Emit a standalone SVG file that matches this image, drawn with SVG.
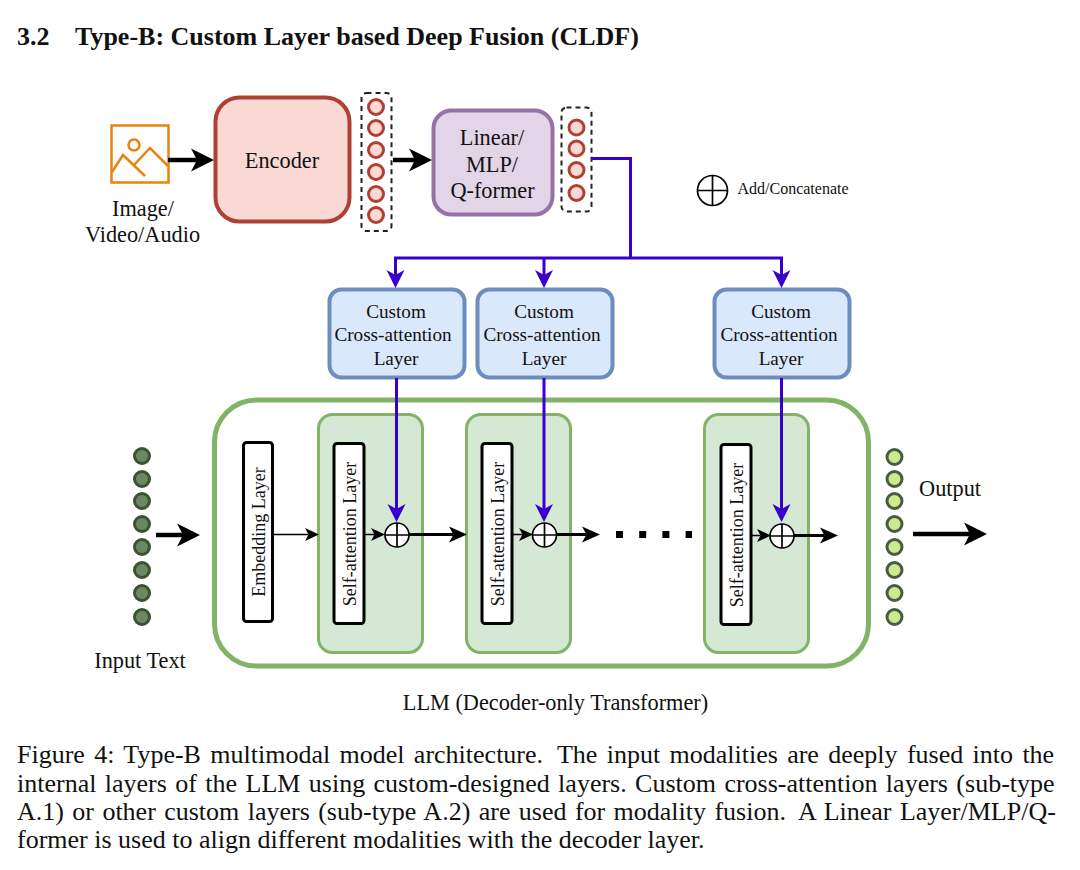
<svg xmlns="http://www.w3.org/2000/svg" width="1080" height="870" viewBox="0 0 1080 870">
<style>
text{font-family:"Liberation Serif","Times New Roman",serif;fill:#111;text-anchor:middle}
.t22{font-size:22.300px}
.t19{font-size:19.200px}
.tv{font-size:18px}
.cap{font-size:26px;text-anchor:start}
.title{font-size:26px;font-weight:bold;text-anchor:start}
.dash{fill:#fff;stroke:#222;stroke-width:2;stroke-dasharray:5 4}
.red{fill:#fad9d5;stroke:#ae4132;stroke-width:3}
.dg{fill:#6d8764;stroke:#3a5431;stroke-width:3}
.lg{fill:#cdeb8b;stroke:#4a5a45;stroke-width:3}
.cust{fill:#dae8fc;stroke:#6c8ebf;stroke-width:4}
.green{fill:#d5e8d4;stroke:#82b366;stroke-width:3}
.layer{fill:#fff;stroke:#000;stroke-width:3}
.plus{fill:#fff;stroke:#000;stroke-width:1.7}
.blk{fill:none;stroke:#000;stroke-width:3}
.blk2{fill:none;stroke:#000;stroke-width:4.500}
.thin{fill:none;stroke:#000;stroke-width:1.500}
.pur{fill:none;stroke:#3700cc;stroke-width:3}
</style>
<defs>
<marker id="ab" markerUnits="userSpaceOnUse" markerWidth="26" markerHeight="26" refX="6" refY="13" orient="auto"><path d="M0 1.500L23 13L0 24.500L6 13Z" fill="#000"/></marker>
<marker id="am" markerUnits="userSpaceOnUse" markerWidth="20" markerHeight="20" refX="4.500" refY="10" orient="auto"><path d="M0 2L18 10L0 18L4.500 10Z" fill="#000"/></marker>
<marker id="as" markerUnits="userSpaceOnUse" markerWidth="16" markerHeight="16" refX="3.500" refY="8" orient="auto"><path d="M0 1.500L14 8L0 14.500L3.500 8Z" fill="#000"/></marker>
<marker id="ap" markerUnits="userSpaceOnUse" markerWidth="20" markerHeight="20" refX="5" refY="10" orient="auto"><path d="M0 1L18 10L0 19L5 10Z" fill="#3700cc"/></marker>
</defs>
<rect width="1080" height="870" fill="#fff"/>
<text class="title" x="17" y="45">3.2</text>
<text class="title" x="75" y="45">Type-B: Custom Layer based Deep Fusion (CLDF)</text>

<g id="llm"><rect x="214.500" y="400" width="654" height="266" rx="42" fill="#fff" stroke="#82b366" stroke-width="5"/></g>
<g id="block1"><rect class="green" x="318.500" y="414.500" width="104" height="238" rx="14"/></g>
<g id="block2"><rect class="green" x="466.500" y="414.500" width="104" height="238" rx="14"/></g>
<g id="block3"><rect class="green" x="704.500" y="414.500" width="104" height="238" rx="14"/></g>

<g id="image-icon" fill="none" stroke="#e7830f" stroke-width="2.500">
<rect x="111.500" y="125.500" width="57" height="57"/>
<circle cx="134" cy="145" r="5.500"/>
<path d="M112 172L123 155L145 176M134 165L150 148L168 166"/>
</g>
<g id="image-label"><text class="t22" x="143" y="216">Image/</text><text class="t22" x="142.500" y="242">Video/Audio</text></g>
<g id="encoder"><rect x="215.500" y="97.500" width="134" height="124" rx="24" fill="#fad9d5" stroke="#ae4132" stroke-width="4"/><text class="t22" x="282" y="168">Encoder</text></g>
<g id="tokens-a"><rect class="dash" x="361.500" y="93" width="30" height="138" rx="5"/>
<circle class="red" cx="376" cy="107" r="7.500"/><circle class="red" cx="376" cy="128" r="7.500"/><circle class="red" cx="376" cy="150" r="7.500"/><circle class="red" cx="376" cy="172" r="7.500"/><circle class="red" cx="376" cy="194" r="7.500"/><circle class="red" cx="376" cy="215" r="7.500"/></g>
<g id="projector"><rect x="433.500" y="110.500" width="119" height="104" rx="18" fill="#e1d5e7" stroke="#9673a6" stroke-width="4"/><text class="t22" x="492" y="145">Linear/</text><text class="t22" x="492" y="172">MLP/</text><text class="t22" x="492.500" y="198">Q-former</text></g>
<g id="tokens-b"><rect class="dash" x="561.500" y="107.500" width="30" height="104" rx="5"/>
<circle class="red" cx="576.500" cy="127.500" r="7.500"/><circle class="red" cx="576.500" cy="148.500" r="7.500"/><circle class="red" cx="576.500" cy="170" r="7.500"/><circle class="red" cx="576.500" cy="193" r="7.500"/></g>
<g id="legend"><circle class="plus" cx="712.500" cy="190.500" r="15"/><path class="plus" d="M697.500 190.500H727.500M712.500 175.500V205.500"/><text x="793" y="194" style="font-size:16px">Add/Concatenate</text></g>

<g id="custom1"><rect class="cust" x="329.500" y="289.500" width="135" height="88" rx="12"/><text class="t19" x="396" y="318">Custom</text><text class="t19" x="393" y="341">Cross-attention</text><text class="t19" x="396" y="365">Layer</text></g>
<g id="custom2"><rect class="cust" x="477.500" y="289.500" width="135" height="88" rx="12"/><text class="t19" x="544" y="318">Custom</text><text class="t19" x="542" y="341">Cross-attention</text><text class="t19" x="544" y="365">Layer</text></g>
<g id="custom3"><rect class="cust" x="714.500" y="289.500" width="135" height="88" rx="12"/><text class="t19" x="781" y="318">Custom</text><text class="t19" x="779" y="341">Cross-attention</text><text class="t19" x="781" y="365">Layer</text></g>

<g id="embedding"><rect class="layer" x="243.500" y="442.500" width="29" height="179" rx="3"/><text class="tv" transform="translate(265,532) rotate(-90)">Embedding Layer</text></g>
<g id="sa1"><rect class="layer" x="334" y="443.500" width="30" height="180" rx="3"/><text class="tv" transform="translate(356,534) rotate(-90)">Self-attention Layer</text></g>
<g id="sa2"><rect class="layer" x="482" y="443.500" width="30" height="180" rx="3"/><text class="tv" transform="translate(504,534) rotate(-90)">Self-attention Layer</text></g>
<g id="sa3"><rect class="layer" x="721" y="444.500" width="30" height="180" rx="3"/><text class="tv" transform="translate(743,535) rotate(-90)">Self-attention Layer</text></g>

<g id="input-dots"><circle class="dg" cx="142" cy="456" r="7.500"/><circle class="dg" cx="142" cy="479" r="7.500"/><circle class="dg" cx="142" cy="501" r="7.500"/><circle class="dg" cx="142" cy="524" r="7.500"/><circle class="dg" cx="142" cy="547" r="7.500"/><circle class="dg" cx="142" cy="570" r="7.500"/><circle class="dg" cx="142" cy="593" r="7.500"/><circle class="dg" cx="142" cy="617" r="7.500"/></g>
<g id="output-dots"><circle class="lg" cx="894.500" cy="457" r="7.500"/><circle class="lg" cx="894.500" cy="479" r="7.500"/><circle class="lg" cx="894.500" cy="501" r="7.500"/><circle class="lg" cx="894.500" cy="524" r="7.500"/><circle class="lg" cx="894.500" cy="547" r="7.500"/><circle class="lg" cx="894.500" cy="570" r="7.500"/><circle class="lg" cx="894.500" cy="593" r="7.500"/><circle class="lg" cx="894.500" cy="617" r="7.500"/></g>

<g id="connectors">
<path class="blk2" d="M168 160H197" marker-end="url(#ab)"/>
<path class="blk2" d="M393 160H415" marker-end="url(#ab)"/>
<path class="pur" d="M591 158.500H630.500V258"/>
<path class="pur" d="M394 258H783"/>
<path class="pur" d="M395.500 258V275" marker-end="url(#ap)"/>
<path class="pur" d="M544 258V275" marker-end="url(#ap)"/>
<path class="pur" d="M781.500 258V275" marker-end="url(#ap)"/>
<path class="pur" d="M396.500 378V509" marker-end="url(#ap)"/>
<path class="pur" d="M544 378V509" marker-end="url(#ap)"/>
<path class="pur" d="M781.500 378V509" marker-end="url(#ap)"/>
<path class="blk2" d="M156 535H183" marker-end="url(#ab)"/>
<path class="thin" d="M273 534.500H308.500" marker-end="url(#as)"/>
<path class="thin" d="M364 534.500H374.500" marker-end="url(#as)"/>
<path class="blk" d="M409 534.500H453.500" marker-end="url(#am)"/>
<path class="thin" d="M512 534.500H522.500" marker-end="url(#as)"/>
<path class="blk" d="M556 534.500H586.500" marker-end="url(#am)"/>
<path class="thin" d="M751 535.500H760.500" marker-end="url(#as)"/>
<path class="blk" d="M794 535.500H824.500" marker-end="url(#am)"/>
<path class="blk2" d="M913 534H970" marker-end="url(#ab)"/>
<path d="M616 534.500H692" fill="none" stroke="#000" stroke-width="7" stroke-dasharray="7 16.200"/>
</g>

<g id="add1"><circle class="plus" cx="397" cy="535" r="12"/><path class="plus" d="M385 535H409M397 523V547"/></g>
<g id="add2"><circle class="plus" cx="544.500" cy="535" r="12"/><path class="plus" d="M532.500 535H556.500M544.500 523V547"/></g>
<g id="add3"><circle class="plus" cx="782" cy="536" r="12"/><path class="plus" d="M770 536H794M782 524V548"/></g>

<text class="t22" x="140" y="668">Input Text</text>
<text class="t22" x="950" y="496">Output</text>
<text class="t22" x="555.500" y="710">LLM (Decoder-only Transformer)</text>

<g id="caption">
<text class="cap" x="17" y="763" style="word-spacing:2.850px">Figure 4: Type-B multimodal model architecture. <tspan dx="5">The input modalities are deeply fused into the</tspan></text>
<text class="cap" x="17" y="792" style="word-spacing:1.900px">internal layers of the LLM using custom-designed layers. Custom cross-attention layers (sub-type</text>
<text class="cap" x="17" y="820" style="word-spacing:1.900px">A.1) or other custom layers (sub-type A.2) are used for modality fusion. <tspan dx="5">A Linear Layer/MLP/Q-</tspan></text>
<text class="cap" x="17" y="848">former is used to align different modalities with the decoder layer.</text>
</g>
</svg>
